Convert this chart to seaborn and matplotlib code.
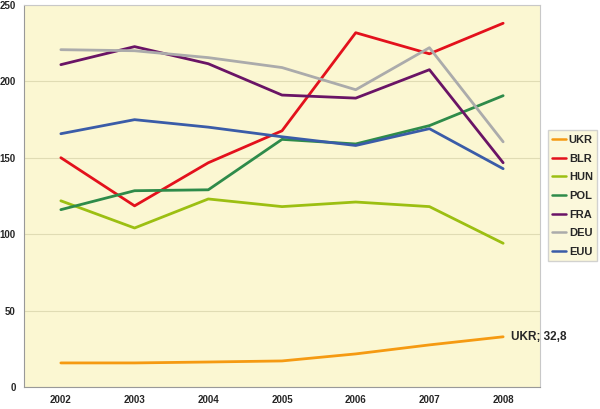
import numpy as np
import pandas as pd
import matplotlib
matplotlib.use("Agg")
import matplotlib.pyplot as plt
import seaborn as sns

years = ["2002", "2003", "2004", "2005", "2006", "2007", "2008"]
ukr = [15.7, 15.7, 16.3, 17.0, 21.6, 27.5, 32.8]
blr = [150, 118.5, 146.7, 167.6, 231.8, 218, 238]
hun = [121.8, 104, 123, 118, 121, 118, 94]
pol = [116, 128.4, 129, 162, 159, 171, 190.6]
fra = [210.9, 222.7, 211.5, 191, 189, 207.6, 146.7]
deu = [220.7, 220, 215.5, 209, 194.5, 222, 160.4]
euu = [165.7, 174.9, 170, 163.7, 158, 169, 142.8]

series = {"UKR": ukr, "BLR": blr, "HUN": hun, "POL": pol,
          "FRA": fra, "DEU": deu, "EUU": euu}
colors = {"UKR": "#F59A12", "BLR": "#E3111C", "HUN": "#9CBF12",
          "POL": "#2E8B4A", "FRA": "#6A1466", "DEU": "#ABABAB", "EUU": "#3A5CA8"}

rows = []
for name, vals in series.items():
    for i, v in enumerate(vals):
        rows.append({"year": i, "value": v, "country": name})
df = pd.DataFrame(rows)

sns.set_style("white")
plt.rcParams['font.family'] = ['Liberation Sans', 'DejaVu Sans']

fig = plt.figure(figsize=(6, 4.09), dpi=100)
ax = fig.add_axes([0.04, 0.054, 0.86, 0.934])
ax.set_facecolor("#FBF7D2")

sns.lineplot(data=df, x="year", y="value", hue="country", palette=colors,
             hue_order=list(series.keys()), linewidth=2, ax=ax)

ax.set_xlim(-0.5, len(years) - 0.5)
ax.set_ylim(0, 250)
ax.set_yticks(range(0, 251, 50))
ax.set_xticks(range(len(years)))
ax.set_xticklabels(years)
ax.set_xticks(np.arange(-0.5, len(years), 1), minor=True)
ax.tick_params(axis="x", which="major", length=0, pad=6, labelsize=7)
ax.tick_params(axis="x", which="minor", length=4, color="#999999", direction="out")
ax.tick_params(axis="y", length=4, color="#999999", direction="out", labelsize=7, pad=2)
for lab in ax.get_xticklabels() + ax.get_yticklabels():
    lab.set_fontweight("bold")
ax.yaxis.grid(True, color="#E0DCB4", linewidth=0.8)
ax.set_axisbelow(True)
ax.set_xlabel("")
ax.set_ylabel("")
for side in ["top", "right"]:
    ax.spines[side].set_color("#C8C8C8")
for side in ["left", "bottom"]:
    ax.spines[side].set_color("#999999")

ax.annotate("UKR; 32,8", xy=(len(years) - 1, ukr[-1]), xytext=(6, 0),
            textcoords="offset points", va="center", ha="left",
            fontsize=8.5, fontweight="bold")

leg = ax.legend(loc="center left", bbox_to_anchor=(1.015, 0.50), frameon=True,
                fontsize=8, handlelength=1.2, handletextpad=0.3,
                borderpad=0.4, borderaxespad=0, labelspacing=0.78, fancybox=False)
leg.get_frame().set_facecolor("#FBF7D2")
leg.get_frame().set_edgecolor("#C8C8C8")
for line in leg.get_lines():
    line.set_linewidth(1.8)
for t in leg.get_texts():
    t.set_fontweight("bold")

fig.savefig("out.png", dpi=100)
